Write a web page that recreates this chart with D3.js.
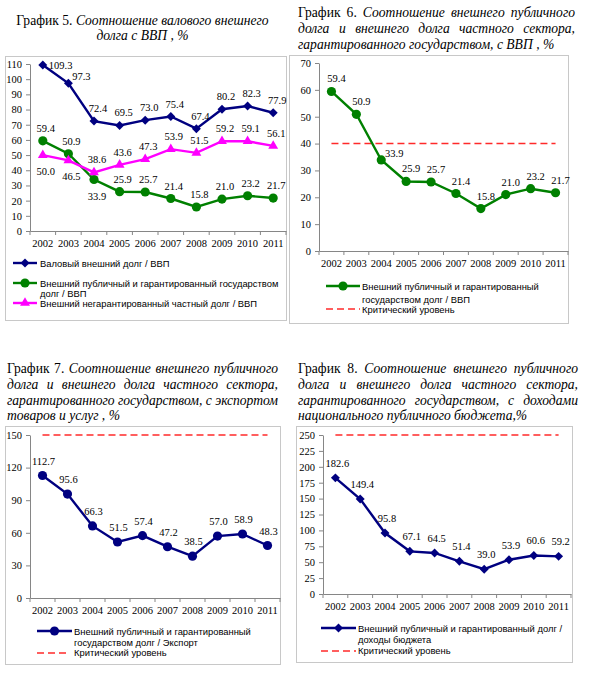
<!DOCTYPE html>
<html>
<head>
<meta charset="utf-8">
<script src="https://cdn.jsdelivr.net/npm/d3@7"></script>
<style>
body { margin: 0; background: #fff; }
svg { display: block; }
</style>
</head>
<body>
<svg></svg>
<script>
// categories
const years = ['2002', '2003', '2004', '2005', '2006', '2007', '2008', '2009', '2010', '2011'];

// series values (%)
const grossDebtGdp   = [109.3, 97.3, 72.4, 69.5, 73.0, 75.4, 67.4, 80.2, 82.3, 77.9];
const publicDebtGdp  = [59.4, 50.9, 33.9, 25.9, 25.7, 21.4, 15.8, 21.0, 23.2, 21.7];
const privateDebtGdp = [50.0, 46.5, 38.6, 43.6, 47.3, 53.9, 51.5, 59.2, 59.1, 56.1];
const publicDebtExport = [112.7, 95.6, 66.3, 51.5, 57.4, 47.2, 38.5, 57.0, 58.9, 48.3];
const publicDebtBudget = [182.6, 149.4, 95.8, 67.1, 64.5, 51.4, 39.0, 53.9, 60.6, 59.2];

// critical levels
const criticalGdp = 40;
const criticalExport = 150;
const criticalBudget = 250;

// tick labels
const ticks5 = [0, 10, 20, 30, 40, 50, 60, 70, 80, 90, 100, 110];
const ticks6 = [0, 10, 20, 30, 40, 50, 60, 70];
const ticks7 = [0, 30, 60, 90, 120, 150];
const ticks8 = [0, 25, 50, 75, 100, 125, 150, 175, 200, 225, 250];

const size = {w: 600, h: 679};
const svg = d3.select('svg').attr('width', size.w).attr('height', size.h);

const serif = "'Liberation Serif', Tinos, 'Times New Roman', Times, serif";
const sans = "'Liberation Sans', Arimo, Arial, sans-serif";
const navy = '#000080', green = '#008000', pink = '#ff00ff', red = '#ff2a2a';
const axisColor = '#868686', boxColor = '#c8c8c8';
const fmt = d3.format('.1f');

function marker(type) {
    if (type === 'diamond') return d3.symbol().type(d3.symbolSquare).size(40)();
    if (type === 'triangle') return d3.symbol().type(d3.symbolTriangle).size(42)();
    return d3.symbol().type(d3.symbolCircle).size(66)();
}

function title(lines, x0, x1, ys, mode) {
    lines.forEach((ln, i) => {
        const words = ln.split(' ');
        const t = svg.append('text').attr('y', ys[i])
            .style('font-family', serif).style('font-size', '13.6px');
        const spans = words.map((w, j) => t.append('tspan').text(w)
            .style('font-style', (i === 0 && j < 2) ? 'normal' : 'italic'));
        const widths = spans.map(s => s.node().getComputedTextLength());
        const total = d3.sum(widths);
        let gap = 3.4;
        if (mode === 'justify' && i < lines.length - 1) gap = Math.max(2.5, (x1 - x0 - total) / (words.length - 1));
        let cx = mode === 'center' ? (x0 + x1) / 2 - (total + gap * (words.length - 1)) / 2 : x0;
        spans.forEach((s, j) => { s.attr('x', cx); cx += widths[j] + gap; });
    });
}

function chart(cfg) {
    const g = svg.append('g');
    g.append('rect')
        .attr('x', cfg.box[0] + 0.5).attr('y', cfg.box[1] + 0.5)
        .attr('width', cfg.box[2] - cfg.box[0]).attr('height', cfg.box[3] - cfg.box[1])
        .attr('fill', 'none').attr('stroke', boxColor);

    const x = d3.scaleBand().domain(years).range([cfg.x0, cfg.x1]);
    const y = d3.scaleLinear().domain([0, cfg.ticks[cfg.ticks.length - 1]]).range([cfg.y0, cfg.y1]);
    const cx = d => x(d) + x.bandwidth() / 2;

    // y axis
    const ya = g.append('g')
        .attr('transform', `translate(${cfg.x0},0)`)
        .call(d3.axisLeft(y).tickValues(cfg.ticks).tickSize(4).tickPadding(4).tickSizeOuter(0));
    // x axis
    const xa = g.append('g')
        .attr('transform', `translate(0,${cfg.y0})`)
        .call(d3.axisBottom(x).tickSize(0).tickPadding(9).tickSizeOuter(0));
    [ya, xa].forEach(a => {
        a.attr('font-family', serif).attr('font-size', 10.5);
        a.selectAll('path, line').attr('stroke', axisColor);
        a.selectAll('text').attr('fill', '#000');
    });
    // category boundary ticks
    g.append('g').selectAll('line')
        .data(years.concat(['end']))
        .join('line')
        .attr('x1', d => d === 'end' ? cfg.x1 : x(d))
        .attr('x2', d => d === 'end' ? cfg.x1 : x(d))
        .attr('y1', cfg.y0).attr('y2', cfg.y0 + 4)
        .attr('stroke', axisColor);

    // critical level
    if (cfg.critical !== undefined) {
        g.append('line')
            .attr('x1', cx(years[0])).attr('x2', cx(years[years.length - 1]))
            .attr('y1', y(cfg.critical)).attr('y2', y(cfg.critical))
            .attr('stroke', red).attr('stroke-width', 1.6).attr('stroke-dasharray', '7,4');
    }

    const line = d3.line().x((d, i) => cx(years[i])).y(d => y(d));

    cfg.series.forEach(s => {
        const posOf = i => s.pos ? s.pos[i] : 'above';
        g.append('path').datum(s.values)
            .attr('d', line)
            .attr('fill', 'none').attr('stroke', s.color).attr('stroke-width', 2.4);
        g.append('g').selectAll('path')
            .data(s.values)
            .join('path')
            .attr('d', marker(s.marker))
            .attr('transform', (d, i) => `translate(${cx(years[i])},${y(d)})` + (s.marker === 'diamond' ? ' rotate(45)' : ''))
            .attr('fill', s.color);
        g.append('g').selectAll('text')
            .data(s.values)
            .join('text')
            .style('font-family', serif)
            .style('font-size', '10.5px')
            .attr('text-anchor', (d, i) => posOf(i) === 'right' ? 'start' : 'middle')
            .attr('x', (d, i) => {
                const p = posOf(i);
                if (p === 'right') return cx(years[i]) + 6;
                if (p === 'upright') return cx(years[i]) + 13;
                return cx(years[i]) + (s.dx || 0);
            })
            .attr('y', (d, i) => {
                const p = posOf(i);
                if (p === 'right') return y(d) + 4;
                if (p === 'upright') return y(d) - 3;
                if (p === 'below') return y(d) + 20;
                return y(d) - cfg.labelUp;
            })
            .text(d => fmt(d));
    });

    // legend
    cfg.legend.forEach(l => {
        const lg = g.append('g');
        if (l.dashed) {
            lg.append('line').attr('x1', l.lx[0]).attr('x2', l.lx[1]).attr('y1', l.ly).attr('y2', l.ly)
                .attr('stroke', red).attr('stroke-width', 1.6).attr('stroke-dasharray', '7,4');
        } else {
            lg.append('line').attr('x1', l.lx[0]).attr('x2', l.lx[1]).attr('y1', l.ly).attr('y2', l.ly)
                .attr('stroke', l.color).attr('stroke-width', 2.4);
            lg.append('path').attr('d', marker(l.marker))
                .attr('transform', `translate(${(l.lx[0] + l.lx[1]) / 2},${l.ly})` + (l.marker === 'diamond' ? ' rotate(45)' : ''))
                .attr('fill', l.color);
        }
        l.text.forEach((t, i) => {
            lg.append('text')
                .style('font-family', sans).style('font-size', '9.4px')
                .attr('x', l.tx).attr('y', l.ty[i]).text(t);
        });
    });
}

// График 5
title(['График 5. Соотношение валового внешнего', 'долга с ВВП , %'], 5, 280, [25, 40], 'center');
chart({
    box: [5, 56, 286, 320],
    x0: 30, x1: 286, y0: 231, y1: 64, ticks: ticks5, labelUp: 9,
    series: [
        {values: grossDebtGdp, color: navy, marker: 'diamond', dx: 4,
         pos: ['right', 'upright', 'above', 'above', 'above', 'above', 'above', 'above', 'above', 'above']},
        {values: publicDebtGdp, color: green, marker: 'circle', dx: 3,
         pos: ['above', 'above', 'below', 'above', 'above', 'above', 'above', 'above', 'above', 'above']},
        {values: privateDebtGdp, color: pink, marker: 'triangle', dx: 3,
         pos: ['below', 'below', 'above', 'above', 'above', 'above', 'above', 'above', 'above', 'above']}
    ],
    legend: [
        {color: navy, marker: 'diamond', lx: [13, 37], ly: 263, tx: 40, ty: [266.5],
         text: ['Валовый внешний долг / ВВП']},
        {color: green, marker: 'circle', lx: [13, 37], ly: 283, tx: 40, ty: [287, 297],
         text: ['Внешний публичный и гарантированный государством', 'долг  / ВВП']},
        {color: pink, marker: 'triangle', lx: [13, 37], ly: 303, tx: 40, ty: [306.5],
         text: ['Внешний негарантированный частный долг / ВВП']}
    ]
});

// График 6
title(['График 6. Соотношение внешнего публичного', 'долга и внешнего долга частного сектора,',
       'гарантированного государством, с ВВП , %'], 298, 575, [17, 33, 49], 'justify');
chart({
    box: [289, 55, 568, 323],
    x0: 319, x1: 568, y0: 251, y1: 63, ticks: ticks6, labelUp: 9, critical: criticalGdp,
    series: [
        {values: publicDebtGdp, color: green, marker: 'circle', dx: 5,
         pos: ['above', 'above', 'upright', 'above', 'above', 'above', 'above', 'above', 'above', 'above']}
    ],
    legend: [
        {color: green, marker: 'circle', lx: [326, 360], ly: 286, tx: 362, ty: [290, 303],
         text: ['Внешний публичный и гарантированный', 'государством долг / ВВП']},
        {dashed: true, lx: [326, 360], ly: 309, tx: 362, ty: [312.5], text: ['Критический уровень']}
    ]
});

// График 7
title(['График 7. Соотношение внешнего публичного', 'долга и внешнего долга частного сектора,',
       'гарантированного государством, с экспортом', 'товаров и услуг , %'], 7, 278, [373, 389, 405, 420], 'justify');
chart({
    box: [5, 426, 280, 664],
    x0: 30, x1: 280, y0: 598, y1: 435, ticks: ticks7, labelUp: 11, critical: criticalExport,
    series: [
        {values: publicDebtExport, color: navy, marker: 'circle', dx: 1}
    ],
    legend: [
        {color: navy, marker: 'circle', lx: [37, 72], ly: 631, tx: 74, ty: [635, 646],
         text: ['Внешний публичный и гарантированный', 'государством долг / Экспорт']},
        {dashed: true, lx: [37, 70], ly: 653, tx: 74, ty: [656], text: ['Критический уровень']}
    ]
});

// График 8
title(['График 8. Соотношение внешнего публичного', 'долга и внешнего долга частного сектора,',
       'гарантированного государством, с доходами', 'национального публичного бюджета,%'], 298, 578, [373, 389, 405, 420], 'justify');
chart({
    box: [296, 426, 572, 662],
    x0: 323, x1: 571, y0: 594, y1: 435, ticks: ticks8, labelUp: 11, critical: criticalBudget,
    series: [
        {values: publicDebtBudget, color: navy, marker: 'diamond', dx: 2}
    ],
    legend: [
        {color: navy, marker: 'diamond', lx: [321, 356], ly: 628, tx: 358, ty: [632, 643],
         text: ['Внешний публичный и гарантированный долг /', 'доходы бюджета']},
        {dashed: true, lx: [321, 356], ly: 651, tx: 358, ty: [654], text: ['Критический уровень']}
    ]
});
</script>
</body>
</html>
